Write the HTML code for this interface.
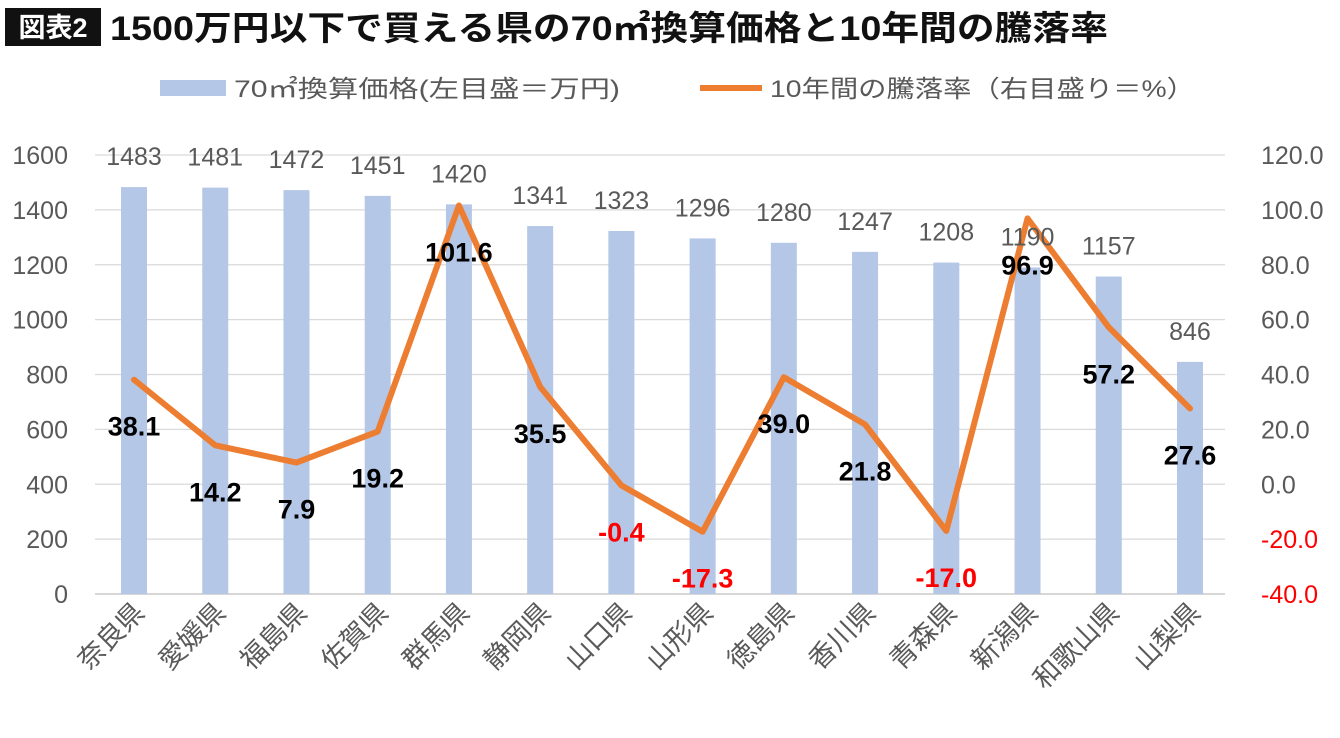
<!DOCTYPE html>
<html><head><meta charset="utf-8">
<style>
body{margin:0;background:#fff;width:1340px;height:733px;overflow:hidden;font-family:"Liberation Sans","Noto Sans CJK JP",sans-serif;}
svg text{font-family:"Liberation Sans","Noto Sans CJK JP",sans-serif;}
</style></head><body>
<svg id="c" width="1340" height="733">
<rect x="5" y="8" width="96" height="38" fill="#111"/>
<text x="53" y="37" fill="#fff" font-size="27" font-weight="bold" text-anchor="middle">図表2</text>
<text x="110" y="40" fill="#111" font-size="34" font-weight="bold" textLength="998" lengthAdjust="spacingAndGlyphs">1500万円以下で買える県の70㎡換算価格と10年間の騰落率</text>
<rect x="160" y="80" width="66" height="16" fill="#b4c7e7"/>
<text x="234" y="97" fill="#595959" font-size="24" textLength="386" lengthAdjust="spacingAndGlyphs">70㎡換算価格(左目盛＝万円)</text>
<line x1="700" y1="88" x2="762" y2="88" stroke="#ed7d31" stroke-width="6"/>
<text x="770" y="97" fill="#595959" font-size="24" textLength="425" lengthAdjust="spacingAndGlyphs">10年間の騰落率（右目盛り＝%）</text>
<g id="grid"></g><g id="bars"></g><g id="line"></g><g id="labels"></g>
</svg>
<script>
const categories=["奈良県","愛媛県","福島県","佐賀県","群馬県","静岡県","山口県","山形県","徳島県","香川県","青森県","新潟県","和歌山県","山梨県"];
const prices=[1483,1481,1472,1451,1420,1341,1323,1296,1280,1247,1208,1190,1157,846];
const rates=[38.1,14.2,7.9,19.2,101.6,35.5,-0.4,-17.3,39.0,21.8,-17.0,96.9,57.2,27.6];
const leftTicks=[0,200,400,600,800,1000,1200,1400,1600];
const rightTicks=[-40,-20,0,20,40,60,80,100,120];
const NS="http://www.w3.org/2000/svg";
const plotTop=155,plotBot=594,x0=93.4,x1=1230.6,gridR=1225;
const yL=v=>plotBot-(v/1600)*(plotBot-plotTop);
const yR=v=>plotBot-((v+40)/160)*(plotBot-plotTop);
const step=(x1-x0)/categories.length;
const xC=i=>x0+step*(i+0.5);
function mk(tag,attrs,parent,text){const e=document.createElementNS(NS,tag);for(const k in attrs)e.setAttribute(k,attrs[k]);if(text!==undefined)e.textContent=text;document.getElementById(parent).appendChild(e);return e;}
leftTicks.forEach(v=>{
 const g=mk('line',{x1:95,x2:gridR,y1:yL(v),y2:yL(v),stroke:v===0?'#bfbfbf':'#d9d9d9','stroke-width':1.3},'grid');
 
 
 const t=mk('text',{x:68,y:yL(v)+9,'text-anchor':'end','font-size':25,fill:'#595959'},'grid',v);
 
 
});
rightTicks.forEach(v=>{
 const t=mk('text',{x:1261,y:yR(v)+9,'font-size':25,fill:v<0?'#ff0000':'#595959'},'grid',v.toFixed(1));
 
 
});
categories.forEach((c,i)=>{
 const x=xC(i);
 const b=mk('rect',{x:x-13,y:yL(prices[i]),width:26,height:plotBot-yL(prices[i]),fill:'#b4c7e7'},'bars');
 
 
 const t=mk('text',{x:x,y:yL(prices[i])-22,'text-anchor':'middle','font-size':25,fill:'#595959'},'labels',prices[i]);
 
 
 const lab=mk('text',{x:0,y:0,'text-anchor':'end','font-size':27,fill:'#595959',transform:`translate(${x+12},${plotBot+20}) rotate(-45)`},'labels',c);
 
 
 const r=mk('text',{x:x,y:yR(rates[i])+56,'text-anchor':'middle','font-size':27,'font-weight':'bold',fill:rates[i]<0?'#ff0000':'#000'},'labels',rates[i].toFixed(1));
 
 
});
const pts=rates.map((v,i)=>xC(i)+','+yR(v)).join(' ');
const pl=mk('polyline',{points:pts,fill:'none',stroke:'#ed7d31','stroke-width':6,'stroke-linejoin':'round','stroke-linecap':'round'},'line');


</script>
</body></html>
